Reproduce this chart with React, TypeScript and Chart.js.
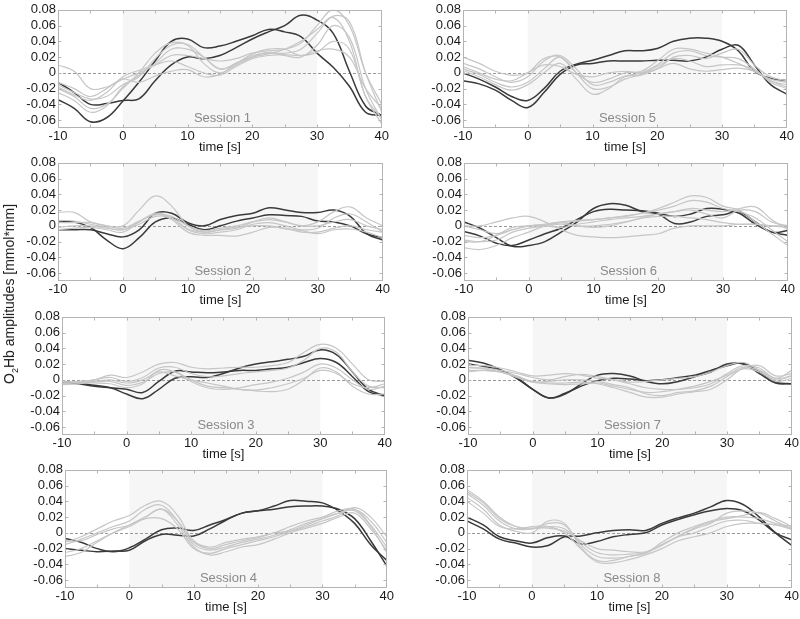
import React, { useEffect, useRef } from 'react';
import { Chart, registerables } from 'chart.js';

Chart.register(...registerables);

// ---------- data ----------
const timePoints = [-10, -7.5, -5, -2.5, 0, 2.5, 5, 7.5, 10, 12.5, 15, 17.5, 20, 22.5, 25, 27.5, 30, 32.5, 35, 37.5, 40];
const xTickValues = [-10, 0, 10, 20, 30, 40];
const yTickValues = [-0.06, -0.04, -0.02, 0, 0.02, 0.04, 0.06, 0.08];
const stimulusWindow = [0, 30];
const sessionNames = ['Session 1', 'Session 2', 'Session 3', 'Session 4', 'Session 5', 'Session 6', 'Session 7', 'Session 8'];
const yAxisTitle = 'amplitudes [mmol*mm]';
const xAxisTitle = 'time [s]';

const session1Dark = [
  [-0.034, -0.045, -0.062, -0.057, -0.036, -0.012, 0.015, 0.040, 0.043, 0.032, 0.034, 0.040, 0.047, 0.055, 0.052, 0.046, 0.025, 0.007, -0.017, -0.050, -0.054],
  [-0.012, -0.025, -0.040, -0.039, -0.035, -0.033, -0.010, 0.010, 0.020, 0.018, 0.022, 0.032, 0.043, 0.052, 0.060, 0.073, 0.067, 0.050, 0.002, -0.042, -0.054],
];
const session1Light = [
  [0.010, 0.002, -0.020, -0.018, -0.008, 0.000, 0.010, 0.022, 0.022, 0.018, 0.015, 0.018, 0.025, 0.028, 0.030, 0.038, 0.060, 0.080, 0.060, 0.000, -0.040],
  [-0.015, -0.025, -0.033, -0.030, -0.015, -0.005, 0.018, 0.035, 0.036, 0.020, 0.005, 0.012, 0.022, 0.025, 0.025, 0.030, 0.050, 0.072, 0.065, 0.000, -0.050],
  [-0.020, -0.030, -0.045, -0.040, -0.020, 0.000, 0.025, 0.038, 0.035, 0.012, 0.000, 0.010, 0.020, 0.026, 0.022, 0.020, 0.035, 0.060, 0.045, -0.020, -0.060],
  [-0.018, -0.028, -0.035, -0.025, -0.005, 0.003, 0.010, 0.015, 0.008, 0.000, -0.003, 0.008, 0.018, 0.022, 0.023, 0.022, 0.026, 0.040, 0.030, -0.030, -0.065],
  [-0.025, -0.035, -0.050, -0.042, -0.018, -0.003, 0.012, 0.030, 0.030, 0.020, 0.005, 0.012, 0.024, 0.030, 0.030, 0.022, 0.028, 0.030, 0.020, -0.020, -0.045],
  [-0.012, -0.020, -0.030, -0.020, -0.008, -0.012, -0.004, 0.002, 0.004, -0.005, -0.002, 0.012, 0.020, 0.024, 0.030, 0.040, 0.055, 0.070, 0.040, -0.030, -0.058],
];

const session2Dark = [
  [0.005, 0.005, -0.002, -0.018, -0.029, -0.015, 0.005, 0.010, 0.002, -0.005, 0.000, 0.006, 0.010, 0.014, 0.013, 0.012, 0.006, 0.005, 0.000, -0.010, -0.015],
  [-0.005, -0.005, -0.005, -0.010, -0.014, -0.005, 0.016, 0.016, 0.004, 0.000, 0.008, 0.013, 0.016, 0.023, 0.020, 0.017, 0.017, 0.020, 0.012, -0.010, -0.018],
];
const session2Light = [
  [0.017, 0.017, 0.005, 0.000, 0.000, 0.020, 0.038, 0.025, 0.000, -0.008, -0.005, -0.003, 0.005, 0.010, 0.005, 0.000, 0.005, 0.018, 0.024, 0.010, 0.000],
  [0.007, 0.006, 0.002, -0.002, -0.005, 0.005, 0.016, 0.010, -0.005, -0.010, -0.008, -0.005, 0.002, 0.004, 0.000, -0.005, -0.003, 0.010, 0.015, 0.005, -0.008],
  [-0.005, -0.003, -0.002, -0.005, -0.008, 0.005, 0.015, 0.008, -0.008, -0.012, -0.012, -0.013, -0.008, -0.002, -0.003, -0.008, -0.008, -0.003, 0.000, -0.005, -0.008],
  [-0.002, 0.000, 0.000, -0.003, -0.005, 0.002, 0.012, 0.010, -0.004, -0.008, -0.005, -0.002, 0.000, 0.000, -0.004, -0.006, -0.010, -0.005, -0.004, -0.008, -0.015],
  [0.004, 0.004, 0.004, 0.000, -0.003, 0.006, 0.014, 0.012, 0.000, -0.006, -0.003, 0.000, 0.005, 0.008, 0.005, 0.000, 0.000, 0.005, 0.008, 0.000, -0.005],
];

const session3Dark = [
  [-0.002, -0.004, -0.007, -0.010, -0.018, -0.024, -0.012, 0.002, 0.004, 0.003, 0.008, 0.015, 0.020, 0.023, 0.026, 0.030, 0.038, 0.032, 0.010, -0.012, -0.020],
  [-0.003, -0.005, -0.008, -0.010, -0.012, -0.016, -0.002, 0.011, 0.010, 0.009, 0.010, 0.012, 0.012, 0.014, 0.016, 0.022, 0.027, 0.022, 0.004, -0.015, -0.020],
];
const session3Light = [
  [-0.005, -0.003, 0.000, 0.006, 0.003, 0.010, 0.020, 0.022, 0.016, 0.014, 0.015, 0.016, 0.016, 0.018, 0.022, 0.035, 0.045, 0.040, 0.020, 0.000, -0.002],
  [-0.003, -0.002, 0.000, 0.003, -0.002, 0.003, 0.015, 0.016, 0.008, 0.004, 0.005, 0.008, 0.010, 0.012, 0.015, 0.025, 0.040, 0.035, 0.010, -0.008, -0.010],
  [-0.006, -0.005, -0.003, -0.002, -0.007, -0.003, 0.008, 0.010, 0.000, -0.008, -0.010, -0.012, -0.014, -0.015, -0.012, 0.000, 0.015, 0.010, -0.008, -0.018, -0.018],
  [-0.004, -0.004, -0.004, -0.005, -0.010, -0.005, 0.012, 0.010, -0.002, -0.010, -0.012, -0.010, -0.006, -0.003, 0.002, 0.010, 0.020, 0.015, 0.000, -0.012, -0.008],
  [-0.002, -0.003, -0.002, 0.000, -0.004, 0.000, 0.010, 0.005, 0.000, -0.004, -0.008, -0.012, -0.013, -0.010, -0.005, 0.002, 0.012, 0.008, -0.005, -0.010, -0.005],
];

const session4Dark = [
  [-0.007, -0.012, -0.020, -0.024, -0.019, -0.008, 0.004, 0.006, 0.003, 0.010, 0.017, 0.025, 0.028, 0.034, 0.041, 0.040, 0.038, 0.028, 0.012, -0.015, -0.035],
  [-0.020, -0.022, -0.024, -0.023, -0.022, -0.010, -0.002, -0.003, -0.004, 0.005, 0.016, 0.025, 0.028, 0.030, 0.033, 0.034, 0.034, 0.030, 0.018, -0.010, -0.042],
];
const session4Light = [
  [-0.012, -0.005, 0.005, 0.015, 0.022, 0.035, 0.040, 0.022, -0.010, -0.018, -0.012, -0.008, -0.005, 0.000, 0.008, 0.015, 0.020, 0.028, 0.030, 0.015, -0.012],
  [-0.015, -0.008, 0.000, 0.008, 0.015, 0.030, 0.035, 0.015, -0.015, -0.022, -0.018, -0.012, -0.008, -0.003, 0.004, 0.012, 0.018, 0.025, 0.030, 0.010, -0.018],
  [-0.030, -0.025, -0.012, 0.000, 0.010, 0.020, 0.030, 0.010, -0.018, -0.028, -0.024, -0.018, -0.015, -0.008, 0.000, 0.006, 0.012, 0.020, 0.025, 0.005, -0.022],
  [-0.025, -0.020, -0.010, 0.000, 0.008, 0.018, 0.018, 0.005, -0.020, -0.026, -0.020, -0.015, -0.010, -0.005, 0.002, 0.010, 0.018, 0.025, 0.028, 0.008, -0.025],
  [-0.010, -0.010, -0.002, 0.005, 0.010, 0.020, 0.030, 0.015, -0.012, -0.020, -0.015, -0.010, -0.006, 0.000, 0.002, 0.008, 0.015, 0.022, 0.032, 0.020, -0.005],
];

const session5Dark = [
  [0.000, -0.008, -0.018, -0.030, -0.035, -0.020, 0.002, 0.011, 0.016, 0.022, 0.028, 0.028, 0.031, 0.040, 0.044, 0.044, 0.040, 0.028, 0.002, -0.007, -0.010],
  [-0.010, -0.014, -0.022, -0.035, -0.044, -0.025, -0.002, 0.010, 0.012, 0.015, 0.015, 0.015, 0.016, 0.016, 0.015, 0.020, 0.030, 0.035, 0.010, -0.015, -0.027],
];
const session5Light = [
  [0.020, 0.012, 0.002, -0.003, 0.000, 0.018, 0.020, 0.000, -0.012, -0.008, 0.000, 0.002, 0.015, 0.030, 0.030, 0.025, 0.020, 0.012, 0.002, -0.008, -0.012],
  [0.012, 0.005, -0.005, -0.012, -0.005, 0.015, 0.022, 0.005, -0.015, -0.012, -0.004, 0.000, 0.010, 0.025, 0.028, 0.022, 0.020, 0.018, 0.005, -0.010, -0.015],
  [0.005, -0.002, -0.012, -0.018, -0.012, 0.005, 0.020, 0.000, -0.020, -0.018, -0.008, -0.002, 0.008, 0.018, 0.015, 0.008, 0.010, 0.010, 0.004, -0.012, -0.020],
  [0.003, -0.005, -0.015, -0.022, -0.015, 0.000, 0.012, -0.008, -0.027, -0.020, -0.005, -0.003, 0.005, 0.012, 0.005, 0.002, 0.004, 0.006, 0.002, -0.010, -0.018],
  [0.008, 0.000, -0.008, -0.010, 0.000, 0.010, 0.008, -0.002, -0.005, 0.000, 0.002, 0.000, 0.005, 0.020, 0.022, 0.018, 0.025, 0.030, 0.010, -0.005, -0.010],
];

const session6Dark = [
  [0.005, -0.003, -0.015, -0.026, -0.025, -0.020, -0.008, 0.005, 0.022, 0.028, 0.026, 0.018, 0.015, 0.003, 0.005, 0.012, 0.014, 0.018, 0.005, -0.008, -0.006],
  [-0.007, -0.013, -0.022, -0.025, -0.018, -0.010, -0.003, 0.008, 0.018, 0.021, 0.020, 0.019, 0.016, 0.012, 0.015, 0.022, 0.021, 0.016, 0.002, -0.008, -0.012],
];
const session6Light = [
  [-0.028, -0.030, -0.025, -0.015, -0.008, 0.000, 0.004, 0.006, 0.008, 0.010, 0.012, 0.016, 0.022, 0.030, 0.038, 0.036, 0.025, 0.020, 0.005, -0.010, -0.025],
  [-0.020, -0.020, -0.012, -0.002, 0.000, 0.002, 0.005, 0.007, 0.008, 0.010, 0.013, 0.016, 0.020, 0.025, 0.032, 0.030, 0.022, 0.018, 0.010, -0.005, -0.020],
  [0.000, 0.000, 0.005, 0.010, 0.012, 0.005, -0.005, -0.012, -0.014, -0.015, -0.014, -0.012, -0.010, -0.003, 0.000, 0.000, 0.000, 0.002, 0.002, 0.000, 0.000],
  [-0.018, -0.020, -0.018, -0.008, -0.003, 0.000, 0.002, 0.000, 0.000, 0.002, 0.005, 0.010, 0.015, 0.018, 0.020, 0.015, 0.010, 0.020, 0.018, 0.005, 0.000],
  [-0.012, -0.015, -0.012, -0.005, 0.000, 0.000, -0.002, 0.002, 0.005, 0.008, 0.010, 0.012, 0.015, 0.018, 0.022, 0.020, 0.018, 0.022, 0.024, 0.008, -0.005],
  [0.000, -0.005, -0.010, -0.005, 0.000, 0.002, 0.004, 0.000, -0.002, 0.000, 0.005, 0.010, 0.012, 0.012, 0.010, 0.008, 0.004, 0.002, 0.002, 0.000, -0.002],
];

const session7Dark = [
  [0.025, 0.021, 0.013, 0.002, -0.012, -0.023, -0.018, -0.005, 0.006, 0.008, 0.005, -0.002, -0.005, -0.002, 0.004, 0.010, 0.020, 0.020, 0.008, -0.004, -0.005],
  [0.020, 0.017, 0.012, 0.003, -0.012, -0.023, -0.017, -0.008, -0.001, 0.002, 0.001, -0.001, 0.000, 0.003, 0.006, 0.012, 0.018, 0.021, 0.010, -0.003, -0.005],
];
const session7Light = [
  [0.018, 0.018, 0.015, 0.010, 0.005, 0.006, 0.008, 0.006, 0.002, 0.000, -0.003, -0.002, 0.000, 0.002, 0.004, 0.010, 0.018, 0.022, 0.012, 0.000, 0.005],
  [0.015, 0.015, 0.012, 0.008, 0.003, 0.000, 0.004, 0.007, 0.004, 0.000, -0.005, -0.010, -0.012, -0.012, -0.010, -0.005, 0.008, 0.018, 0.015, 0.002, 0.012],
  [0.012, 0.012, 0.010, 0.005, -0.002, -0.004, -0.004, -0.003, -0.005, -0.010, -0.016, -0.022, -0.022, -0.018, -0.015, -0.012, 0.000, 0.015, 0.018, 0.005, 0.008],
  [0.010, 0.012, 0.010, 0.004, -0.003, -0.005, -0.006, -0.005, -0.004, -0.008, -0.012, -0.016, -0.015, -0.012, -0.008, -0.002, 0.006, 0.016, 0.012, 0.002, 0.005],
  [0.016, 0.014, 0.010, 0.003, -0.003, -0.002, 0.000, 0.000, -0.002, -0.006, -0.010, -0.018, -0.020, -0.016, -0.014, -0.008, 0.004, 0.014, 0.010, -0.002, 0.002],
];

const session8Dark = [
  [0.020, 0.010, -0.005, -0.010, -0.013, -0.006, -0.004, -0.014, -0.011, -0.005, -0.002, 0.000, 0.010, 0.017, 0.023, 0.028, 0.031, 0.028, 0.016, 0.000, -0.009],
  [0.015, 0.005, -0.008, -0.013, -0.018, -0.016, -0.005, -0.004, 0.000, 0.003, 0.004, 0.003, 0.012, 0.019, 0.025, 0.033, 0.041, 0.036, 0.020, 0.000, -0.016],
];
const session8Light = [
  [0.055, 0.040, 0.020, 0.008, 0.005, 0.012, 0.010, -0.015, -0.030, -0.032, -0.030, -0.025, -0.015, -0.005, 0.005, 0.012, 0.025, 0.028, 0.025, 0.015, 0.005],
  [0.050, 0.035, 0.015, 0.005, 0.005, 0.008, 0.005, -0.012, -0.025, -0.028, -0.027, -0.025, -0.012, 0.000, 0.008, 0.015, 0.020, 0.020, 0.018, 0.012, 0.008],
  [0.045, 0.030, 0.010, 0.002, 0.000, 0.015, 0.012, -0.018, -0.035, -0.035, -0.030, -0.026, -0.015, -0.005, 0.000, 0.008, 0.015, 0.016, 0.012, 0.010, 0.006],
  [0.040, 0.025, 0.008, 0.005, 0.008, 0.008, 0.000, -0.020, -0.037, -0.038, -0.034, -0.028, -0.020, -0.010, -0.005, 0.000, 0.008, 0.012, 0.012, 0.010, 0.004],
  [0.052, 0.038, 0.018, 0.008, 0.006, 0.006, 0.002, -0.010, -0.020, -0.022, -0.024, -0.024, -0.016, -0.004, 0.006, 0.014, 0.018, 0.022, 0.026, 0.018, 0.008],
];

// ---------- layout / style ----------
const FONT = '"Liberation Sans", Arial, Helvetica, sans-serif';
const Y_AXIS_W = 45;
const X_AXIS_H = 27;
const PAD_TOP = 8;
const PAD_RIGHT = 8;
const PLOT_H = 120;

const panels = [
  { name: 0, dark: session1Dark, light: session1Light, l: 58, r: 382, t: 8 },
  { name: 1, dark: session2Dark, light: session2Light, l: 58, r: 383, t: 161 },
  { name: 2, dark: session3Dark, light: session3Light, l: 62, r: 385, t: 315 },
  { name: 3, dark: session4Dark, light: session4Light, l: 65, r: 387, t: 468 },
  { name: 4, dark: session5Dark, light: session5Light, l: 463, r: 787, t: 8 },
  { name: 5, dark: session6Dark, light: session6Light, l: 464, r: 788, t: 161 },
  { name: 6, dark: session7Dark, light: session7Light, l: 468, r: 792, t: 315 },
  { name: 7, dark: session8Dark, light: session8Light, l: 467, r: 792, t: 468 },
];

function toPoints(values: number[]) {
  return timePoints.map((t, i) => ({ x: t, y: values[i] }));
}

function decorPlugin(label: string) {
  return {
    id: 'panelDecor',
    beforeDatasetsDraw(chart: any) {
      const { ctx, chartArea: a, scales } = chart;
      const x = scales.x, y = scales.y;
      ctx.save();
      const x0 = x.getPixelForValue(stimulusWindow[0]);
      const x1 = x.getPixelForValue(stimulusWindow[1]);
      ctx.fillStyle = '#f6f6f6';
      ctx.fillRect(x0, a.top, x1 - x0, a.bottom - a.top);
      const y0 = Math.round(y.getPixelForValue(0)) + 0.5;
      ctx.strokeStyle = '#999999';
      ctx.lineWidth = 1;
      ctx.setLineDash([3, 2]);
      ctx.beginPath();
      ctx.moveTo(a.left, y0);
      ctx.lineTo(a.right, y0);
      ctx.stroke();
      ctx.setLineDash([]);
      ctx.fillStyle = '#8a8a8a';
      ctx.font = `13px ${FONT}`;
      ctx.textAlign = 'center';
      ctx.textBaseline = 'middle';
      ctx.fillText(label, x.getPixelForValue(15.4), y.getPixelForValue(-0.058));
      ctx.restore();
    },
    afterDatasetsDraw(chart: any) {
      const { ctx, chartArea: a, scales } = chart;
      const x = scales.x, y = scales.y;
      ctx.save();
      ctx.strokeStyle = '#b4b4b4';
      ctx.lineWidth = 1;
      const L = Math.round(a.left) + 0.5, R = Math.round(a.right) - 0.5;
      const T = Math.round(a.top) + 0.5, B = Math.round(a.bottom) - 0.5;
      ctx.strokeRect(L, T, R - L, B - T);
      ctx.beginPath();
      for (let v = -5; v < 40; v += 5) {
        const px = Math.round(x.getPixelForValue(v)) + 0.5;
        ctx.moveTo(px, T); ctx.lineTo(px, T + 3);
        ctx.moveTo(px, B); ctx.lineTo(px, B - 3);
      }
      for (const v of yTickValues) {
        const py = Math.round(y.getPixelForValue(v)) + 0.5;
        ctx.moveTo(L, py); ctx.lineTo(L + 3, py);
        ctx.moveTo(R, py); ctx.lineTo(R - 3, py);
      }
      ctx.stroke();
      ctx.restore();
    },
  };
}

function Panel({ p }: { p: any }) {
  const ref = useRef<HTMLCanvasElement | null>(null);
  const width = p.r - p.l + Y_AXIS_W + PAD_RIGHT;
  const height = PAD_TOP + PLOT_H + X_AXIS_H;

  useEffect(() => {
    if (!ref.current) return;
    const lightSets = p.light.map((vals: number[]) => ({
      data: toPoints(vals),
      borderColor: '#c6c6c6',
      borderWidth: 1.2,
      pointRadius: 0,
      tension: 0.4,
      fill: false,
    }));
    const darkSets = p.dark.map((vals: number[]) => ({
      data: toPoints(vals),
      borderColor: '#3a3a3a',
      borderWidth: 1.5,
      pointRadius: 0,
      tension: 0.4,
      fill: false,
    }));
    const chart = new Chart(ref.current, {
      type: 'line',
      data: { datasets: [...lightSets, ...darkSets] },
      options: {
        responsive: false,
        animation: false,
        devicePixelRatio: 1,
        layout: { padding: { top: PAD_TOP, right: PAD_RIGHT, left: 0, bottom: 0 } },
        plugins: { legend: { display: false }, tooltip: { enabled: false } },
        events: [],
        scales: {
          x: {
            type: 'linear',
            min: -10,
            max: 40,
            grid: { display: false, drawTicks: false },
            border: { display: false },
            afterBuildTicks: (s: any) => { s.ticks = xTickValues.map((v) => ({ value: v })); },
            afterFit: (s: any) => { s.height = X_AXIS_H; },
            ticks: {
              color: '#1a1a1a',
              padding: 1,
              maxRotation: 0,
              autoSkip: false,
              font: { family: FONT, size: 13 },
              callback: (v: any) => String(v),
            },
            title: {
              display: true,
              text: xAxisTitle,
              color: '#1a1a1a',
              padding: { top: 0, bottom: 0 },
              font: { family: FONT, size: 13 },
            },
          },
          y: {
            type: 'linear',
            min: -0.07,
            max: 0.08,
            grid: { display: false, drawTicks: false },
            border: { display: false },
            afterBuildTicks: (s: any) => { s.ticks = yTickValues.map((v) => ({ value: v })); },
            afterFit: (s: any) => { s.width = Y_AXIS_W; },
            ticks: {
              color: '#1a1a1a',
              padding: 2,
              autoSkip: false,
              font: { family: FONT, size: 13 },
              callback: (v: any) => (Math.abs(v) < 1e-9 ? '0' : Number(v).toFixed(2)),
            },
          },
        },
      },
      plugins: [decorPlugin(sessionNames[p.name])],
    } as any);
    return () => chart.destroy();
  }, []);

  return (
    <canvas
      ref={ref}
      width={width}
      height={height}
      style={{ position: 'absolute', left: p.l - Y_AXIS_W, top: p.t - PAD_TOP, width, height }}
    />
  );
}

export default function App() {
  return (
    <div
      style={{
        position: 'absolute',
        left: 0,
        top: 0,
        width: 800,
        height: 619,
        overflow: 'hidden',
        background: '#ffffff',
        fontFamily: FONT,
      }}
    >
      {panels.map((p) => (
        <Panel key={p.name} p={p} />
      ))}
      <div
        style={{
          position: 'absolute',
          left: 9,
          top: 294,
          transform: 'translate(-50%, -50%) rotate(-90deg)',
          whiteSpace: 'nowrap',
          fontSize: 14,
          color: '#1a1a1a',
          lineHeight: '16px',
        }}
      >
        O<sub style={{ fontSize: 9, verticalAlign: 'sub', lineHeight: 0 }}>2</sub>Hb {yAxisTitle}
      </div>
    </div>
  );
}
